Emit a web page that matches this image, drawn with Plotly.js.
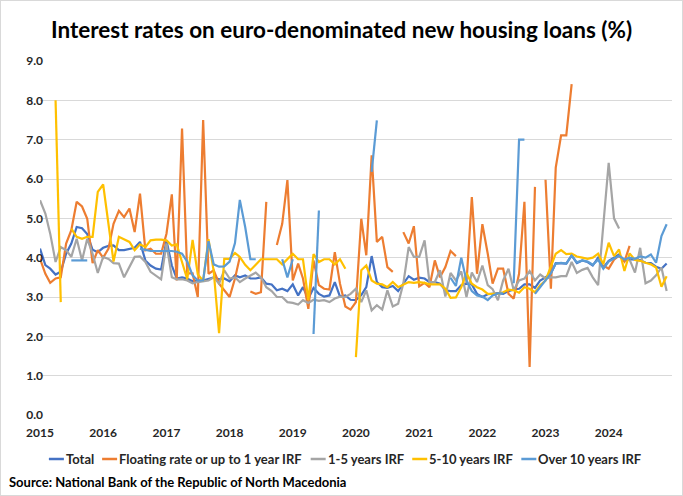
<!DOCTYPE html>
<html>
<head>
<meta charset="utf-8">
<script src="https://cdn.plot.ly/plotly-3.0.1.min.js"></script>
<style>
  html, body { margin: 0; padding: 0; background: #fff; }
  #wrap { position: relative; width: 683px; height: 496px; }
  #chart { width: 683px; height: 496px; }
  #frame { position: absolute; left: 0; top: 0; width: 681px; height: 494px;
           border: 1px solid #d9d9d9; pointer-events: none; }
</style>
</head>
<body>
<div id="wrap">
  <div id="chart"></div>
  <div id="frame"></div>
</div>
<script>
// Monthly observations, January 2015 – December 2024 (null = no new loans that month)
const startYear = 2015;
const nMonths = 120;

const yearTicks = ["2015", "2016", "2017", "2018", "2019", "2020", "2021", "2022", "2023", "2024"];
const yTicks = [0, 1, 2, 3, 4, 5, 6, 7, 8, 9];

const seriesNames = ["Total", "Floating rate or up to 1 year IRF", "1-5 years IRF", "5-10 years IRF", "Over 10 years IRF"];

const total = [
  4.23, 3.81, 3.72, 3.57, 3.64, 4.10, 4.36, 4.78, 4.75, 4.60, 4.20, 4.14,
  4.25, 4.30, 4.31, 4.19, 4.19, 4.23, 4.25, 4.40, 3.93, 3.80, 3.72, 3.70,
  4.44, 3.80, 3.47, 3.50, 3.47, 3.40, 3.42, 3.42, 3.46, 3.50, 3.45, 3.47,
  3.40, 3.55, 3.50, 3.55, 3.47, 3.47, 3.50, 3.34, 3.32, 3.17, 3.21, 3.15,
  3.32, 3.04, 3.25, 2.96, 3.23, 3.08, 3.01, 3.04, 3.38, 3.01, 3.04, 2.93,
  2.92, 3.05, 3.25, 4.04, 3.38, 3.25, 3.23, 3.28, 3.15, 3.34, 3.53, 3.44,
  3.49, 3.47, 3.38, 3.38, 3.34, 3.17, 3.15, 3.15, 3.30, 3.34, 3.32, 3.08,
  3.00, 3.07, 3.08, 3.10, 3.08, 3.15, 3.19, 3.21, 3.32, 3.32, 3.23, 3.42,
  3.50, 3.60, 3.86, 3.86, 3.85, 4.06, 3.86, 3.93, 3.89, 3.80, 4.00, 3.75,
  3.92, 4.00, 4.08, 3.92, 3.96, 3.95, 3.94, 3.87, 3.86, 3.77, 3.72, 3.85
];

const floating = [
  3.97, 3.59, 3.36, 3.47, 3.50, 4.36, 4.70, 5.42, 5.30, 4.99, 3.86, 4.19,
  4.00, 4.23, 4.86, 5.19, 5.03, 5.25, 4.65, 5.63, 4.19, 4.23, 4.10, 4.10,
  4.61, 5.61, 3.42, 7.28, 3.60, 3.60, 3.00, 7.50, 3.59, 3.68, 3.34, 3.17,
  3.00, 3.47, 4.02, null, 3.14, 3.08, 3.12, 5.42, null, 4.32, 4.86, 5.97,
  3.42, 3.85, 3.47, 2.70, 3.93, 3.30, 3.21, 3.19, 4.14, 3.34, 2.76, 2.68,
  2.87, 4.99, 4.06, 6.60, 4.40, 4.53, 3.76, 3.64, null, 4.65, 4.36, 4.80,
  3.27, 3.36, 3.25, 3.93, 3.50, 3.76, 4.17, 4.04, null, 3.35, 5.54, 3.59,
  4.85, 4.10, 3.34, 3.72, 3.72, 3.08, 2.96, 3.59, 5.42, 1.22, 5.80, null,
  5.98, 3.21, 6.29, 7.11, 7.11, 8.41, null, null, null, null, null, 3.80,
  3.72, 3.95, 4.05, 3.90, 4.30, null, null, null, null, null, null, null
];

const irf1to5 = [
  5.46, 5.12, 4.61, 3.89, 4.27, 4.19, 4.02, 4.48, 3.93, 4.48, 4.10, 3.61,
  4.02, 3.97, 3.86, 3.85, 3.50, 3.76, 4.02, 4.03, 3.89, 3.64, 3.55, 3.45,
  4.36, 3.50, 3.45, 3.45, 3.42, 3.35, 3.38, 3.40, 3.42, 3.50, 3.34, 3.68,
  3.47, 3.50, 3.38, 3.47, 3.55, 3.62, 3.50, 3.25, 3.15, 3.00, 3.00, 2.87,
  2.85, 2.81, 2.92, 2.85, 2.93, 2.90, 2.92, 2.87, 2.96, 3.01, 3.00, 3.08,
  3.21, 2.87, 3.17, 2.66, 2.79, 2.68, 3.17, 2.76, 2.83, 3.34, 4.27, 4.02,
  4.02, 4.44, 3.38, 3.38, 3.68, 3.01, 3.61, 3.42, 3.65, 3.00, 3.62, 3.38,
  3.80, 3.30, 3.20, 2.92, 3.42, 3.72, 3.17, 3.42, 3.47, 3.66, 3.42, 3.57,
  3.47, 3.50, 3.50, 3.53, 3.53, 3.89, 3.61, 3.69, 3.74, 3.50, 3.30, 4.90,
  6.41, 5.00, 4.74, null, 3.95, 3.62, 4.25, 3.35, 3.42, 3.55, 3.75, 3.15
];

const irf5to10 = [
  null, null, null, 8.00, 2.87, null, 4.74, 4.53, 4.48, 4.53, 4.53, 5.67,
  5.86, 4.78, 3.90, 4.53, 4.46, 4.40, 4.19, 4.34, 4.27, 4.44, 4.46, 4.46,
  4.44, 4.31, 4.34, 3.90, 3.45, 4.45, 3.58, 3.41, 4.47, 3.66, 2.08, 3.97,
  3.97, 4.12, 4.02, 3.82, 3.68, 3.82, 3.96, 3.96, 3.96, 3.96, 3.83, 3.97,
  4.10, 3.96, 3.96, 2.92, 4.09, 3.89, 3.96, 3.96, 3.83, 3.96, 3.72, null,
  1.47, 3.68, 3.80, 3.42, 3.34, 3.32, 3.25, 3.38, 3.25, 3.32, 3.38, 3.36,
  3.38, 3.36, 3.32, 3.32, 3.32, 3.21, 2.98, 2.99, 3.25, 3.61, 3.34, 3.25,
  3.19, 3.08, 3.08, 3.08, 3.12, 3.19, 3.17, 3.11, 3.25, 3.21, 3.12, 3.30,
  3.42, 3.76, 4.10, 4.19, 4.09, 4.10, 4.03, 4.00, 3.97, 4.00, 4.10, 3.83,
  4.38, 4.04, 4.21, 3.66, 4.11, 3.94, 3.92, 3.87, 3.83, 3.75, 3.26, 3.53
];

const irfOver10 = [
  null, null, null, null, null, null, 3.93, 3.93, 3.93, 3.93, null, null,
  null, null, null, null, null, null, null, 4.23, 4.19, 4.17, 4.17, 4.17,
  4.17, 4.17, 4.15, 4.10, 3.90, 3.55, 3.42, 3.42, 4.42, 3.83, 3.77, 3.78,
  3.90, 4.37, 5.47, 4.78, 3.96, 3.96, null, null, null, null, 3.96, 3.50,
  3.96, null, null, null, 2.06, 5.20, null, null, null, null, null, null,
  null, null, null, 6.18, 7.49, null, null, null, null, null, null, null,
  null, null, null, null, null, null, 3.49, 3.28, 4.00, 3.41, 3.15, 3.04,
  3.01, 2.92, 3.04, 3.09, 3.09, null, 3.35, 7.00, 7.00, null, 3.08, 3.25,
  3.45, 3.60, 3.85, 3.87, 3.85, 4.05, 3.88, 3.93, 3.90, 3.82, 3.95, 3.72,
  3.90, 3.98, 4.05, 3.95, 4.00, 3.97, 4.03, 4.00, 4.08, 3.87, 4.55, 4.85
];

const seriesValues = [total, floating, irf1to5, irf5to10, irfOver10];
const seriesColors = ["#4472C4", "#ED7D31", "#A5A5A5", "#FFC000", "#5B9BD5"];

// Month-start dates for the x axis
const months = [];
for (let i = 0; i < nMonths; i++) {
  const y = startYear + Math.floor(i / 12);
  const m = (i % 12) + 1;
  months.push(y + "-" + (m < 10 ? "0" + m : m) + "-01");
}

const FONT = "Lato, 'Open Sans', sans-serif";
const W = 683, H = 496;
const M = { l: 40, r: 11, t: 61, b: 81 };
const plotW = W - M.l - M.r, plotH = H - M.t - M.b;
const px2x = px => (px - M.l) / plotW;
const py2y = py => (H - M.b - py) / plotH;

const traces = seriesNames.map((name, k) => ({
  type: "scatter",
  mode: "lines",
  name: name,
  x: months,
  y: seriesValues[k],
  line: { color: seriesColors[k], width: 2.2 },
  connectgaps: false,
  hoverinfo: "skip",
  showlegend: false
}));

// Single-row legend below the plot: short colour line followed by bold label
const legendSize = 13;
const canvas = document.createElement("canvas");
const ctx = canvas.getContext("2d");
ctx.font = "bold " + legendSize + "px Lato";
const lineLen = 15, lineGap = 1, itemGap = 9;
const widths = seriesNames.map(n => ctx.measureText(n).width);
const legendTotal = widths.reduce((a, w) => a + lineLen + lineGap + w, 0) + itemGap * (seriesNames.length - 1);
const legendCenter = 345, legendY = 459;
let cursor = legendCenter - legendTotal / 2;

const shapes = [];
const annotations = [];
seriesNames.forEach((name, k) => {
  shapes.push({
    type: "line", xref: "paper", yref: "paper",
    x0: px2x(cursor), x1: px2x(cursor + lineLen),
    y0: py2y(legendY), y1: py2y(legendY),
    line: { color: seriesColors[k], width: 2.5 }
  });
  annotations.push({
    text: "<b>" + name + "</b>",
    xref: "paper", yref: "paper",
    x: px2x(cursor + lineLen + lineGap), y: py2y(legendY),
    xanchor: "left", yanchor: "middle",
    showarrow: false, borderpad: 0,
    font: { family: FONT, size: legendSize, color: "#262626" }
  });
  cursor += lineLen + lineGap + widths[k] + itemGap;
});

annotations.push({
  text: "<b>Source: National Bank of the Republic of North Macedonia</b>",
  xref: "paper", yref: "paper",
  x: px2x(8), y: py2y(482),
  xanchor: "left", yanchor: "middle",
  showarrow: false, borderpad: 0,
  font: { family: FONT, size: 13, color: "#000000" }
});

const layout = {
  width: W,
  height: H,
  margin: M,
  paper_bgcolor: "#ffffff",
  plot_bgcolor: "#ffffff",
  font: { family: FONT, color: "#000000" },
  title: {
    text: "<b>Interest rates on euro-denominated new housing loans (%)</b>",
    font: { family: FONT, size: 22.5, color: "#000000" },
    xref: "container", x: 0.5, xanchor: "center",
    yref: "container", y: 1 - 30 / H, yanchor: "middle"
  },
  xaxis: {
    type: "date",
    range: ["2015-01-01", "2025-01-01"],
    tickmode: "array",
    tickvals: yearTicks.map(y => y + "-01-01"),
    ticktext: yearTicks.map(y => "<b>" + y + "</b>"),
    tickfont: { family: FONT, size: 12, color: "#262626" },
    ticklabelstandoff: 9,
    showgrid: false,
    zeroline: false,
    showline: false,
    ticks: "",
    fixedrange: true
  },
  yaxis: {
    range: [0, 9],
    tickmode: "array",
    tickvals: yTicks,
    ticktext: yTicks.map(v => "<b>" + v.toFixed(1) + "</b>"),
    tickfont: { family: FONT, size: 12, color: "#262626" },
    ticklabelstandoff: -4,
    showgrid: true,
    gridcolor: "#d9d9d9",
    gridwidth: 1,
    zeroline: false,
    showline: false,
    ticks: "",
    fixedrange: true
  },
  showlegend: false,
  shapes: shapes,
  annotations: annotations
};

Plotly.newPlot("chart", traces, layout, { staticPlot: true, displayModeBar: false });
</script>
</body>
</html>
